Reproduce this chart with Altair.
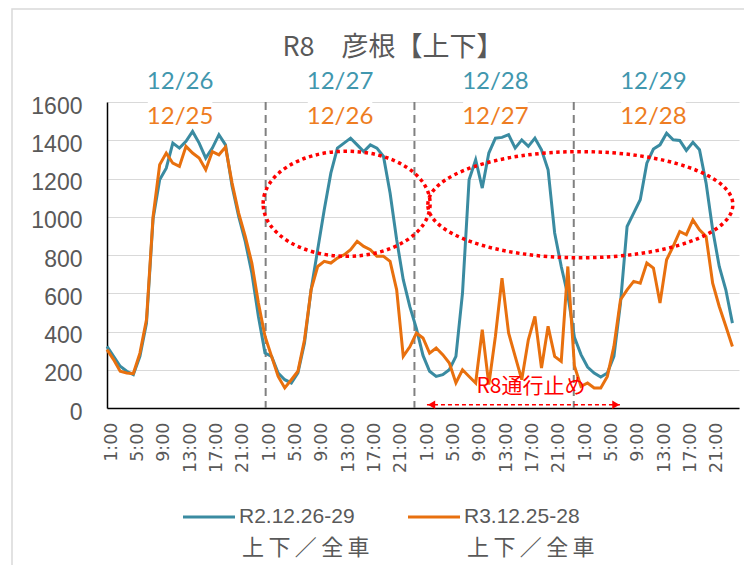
import altair as alt
import pandas as pd

# ---------------- data ----------------
series_names = ["R2.12.26-29", "R3.12.25-28"]
legend_sub = "上\u2009下\u2009／\u2009全\u2009車"
title_text = "R8\u3000彦根【上下】"

# hourly values, 4 days x 24 hours (1:00 ... 24:00)
blue_vals = [
    322, 270, 218, 192, 174, 270, 444, 990, 1193, 1254, 1385, 1359,
    1394, 1446, 1385, 1307, 1359, 1429, 1376, 1159, 1002, 871, 706, 479,
    287, 270, 183, 148, 131, 183, 340, 618, 827, 1037, 1228, 1359,
    1385, 1411, 1376, 1341, 1376, 1359, 1315, 1124, 880, 671, 530, 415,
    275, 192, 165, 174, 200, 270, 600, 1193, 1298, 1150, 1333, 1411,
    1415, 1429, 1359, 1402, 1368, 1411, 1350, 1246, 915, 740, 590, 370,
    279, 214, 183, 162, 183, 270, 549, 949, 1019, 1089, 1280, 1354,
    1376, 1437, 1402, 1399, 1347, 1389, 1350, 1176, 932, 740, 618, 444,
]
orange_vals = [
    305, 253, 192, 183, 180, 287, 462, 1000, 1272, 1333, 1280, 1263,
    1368, 1333, 1307, 1246, 1341, 1324, 1364, 1176, 1019, 897, 758, 549,
    375, 270, 165, 105, 148, 192, 357, 618, 740, 767, 758, 784,
    801, 828, 871, 845, 828, 793, 793, 767, 618, 270, 320, 392,
    366, 287, 314, 279, 235, 131, 200, 165, 131, 409, 122, 375,
    679, 392, 270, 148, 357, 479, 209, 427, 270, 244, 740, 220,
    113, 131, 105, 105, 165, 322, 566, 618, 662, 653, 758, 732,
    549, 775, 845, 923, 906, 984, 932, 897, 653, 531, 427, 322,
]

blue_dates = ["12/26", "12/27", "12/28", "12/29"]
orange_dates = ["12/25", "12/26", "12/27", "12/28"]
date_label_x = [11.1, 35.4, 59.0, 83.0]   # hour index of label centre
blue_date_y = 1706
orange_date_y = 1523

day_sep_x = [24.1, 46.7, 70.9]            # manual day separators (hour index)

closure_text = "R8通行止め"
closure_from, closure_to, closure_y = 48.6, 78.0, 17
closure_text_x, closure_text_y = 64.4, 112

# highlighted areas (centre in hour index / vehicles)
ellipse1 = {"x": 36.4, "y": 1068}
ellipse2 = {"x": 71.9, "y": 1063}

BLUE = "#3A8BA1"
ORANGE = "#E8700E"
BLUE_TXT = "#4197AE"
ORANGE_TXT = "#EE7D22"
GRAY = "#595959"

n = len(blue_vals)
df = pd.DataFrame({
    "idx": list(range(n)) * 2,
    "value": blue_vals + orange_vals,
    "series": [series_names[0]] * n + [series_names[1]] * n,
})

x_scale = alt.Scale(domain=[0, 96], nice=False, zero=False)
y_scale = alt.Scale(domain=[0, 1600], nice=False)

x_axis = alt.Axis(
    values=list(range(0, 96, 4)),
    labelExpr="(datum.value % 24 + 1) + ':00'",
    labelAngle=270, labelAlign="right", labelBaseline="middle",
    labelFontSize=17.5, labelFont="DejaVu Sans", labelColor=GRAY,
    labelPadding=14, labelOffset=4, ticks=False, grid=False,
    domainColor="#000000", domainWidth=1.5, title=None, labelOverlap=False,
)
y_axis = alt.Axis(
    values=list(range(0, 1601, 200)), format="d",
    labelFontSize=23, labelFont="Liberation Sans", labelColor=GRAY,
    labelPadding=25, labelOffset=4, ticks=False, labelOverlap=False,
    gridColor="#D9D9D9", gridWidth=1,
    domainColor="#000000", domainWidth=1.5, title=None,
)

X = lambda f: alt.X(f, scale=x_scale, axis=x_axis)
Y = lambda f: alt.Y(f, scale=y_scale, axis=y_axis)

lines = alt.Chart(df).mark_line(strokeWidth=3).encode(
    x=X("idx:Q"),
    y=Y("value:Q"),
    color=alt.Color("series:N", scale=alt.Scale(domain=series_names, range=[BLUE, ORANGE]), legend=None),
)

# white boxes behind the orange date labels (they hide the top gridline)
box_df = pd.DataFrame({"x": [v - 4.9 for v in date_label_x], "x2": [v + 4.9 for v in date_label_x],
                       "y": [1450] * 4, "y2": [1625] * 4})
boxes = alt.Chart(box_df).mark_rect(color="white").encode(
    x=X("x:Q"), x2="x2:Q", y=Y("y:Q"), y2="y2:Q",
)

sep = alt.Chart(pd.DataFrame({"x": day_sep_x})).mark_rule(
    color="#808080", strokeWidth=2, strokeDash=[8, 5]
).encode(x=X("x:Q"))

dates_b = alt.Chart(pd.DataFrame({"x": date_label_x, "y": [blue_date_y] * 4, "t": blue_dates})).mark_text(
    font="Lato", fontSize=24, color=BLUE_TXT, baseline="middle"
).encode(x=X("x:Q"), y=Y("y:Q"), text="t:N")
dates_o = alt.Chart(pd.DataFrame({"x": date_label_x, "y": [orange_date_y] * 4, "t": orange_dates})).mark_text(
    font="Lato", fontSize=24, color=ORANGE_TXT, baseline="middle"
).encode(x=X("x:Q"), y=Y("y:Q"), text="t:N")

def ellipse_path(r):
    k = 0.5523
    return (f"M-1,0 C-1,{-k*r:.4f} {-k:.4f},{-r:.4f} 0,{-r:.4f} "
            f"C{k:.4f},{-r:.4f} 1,{-k*r:.4f} 1,0 "
            f"C1,{k*r:.4f} {k:.4f},{r:.4f} 0,{r:.4f} "
            f"C{-k:.4f},{r:.4f} -1,{k*r:.4f} -1,0 Z")

ell1 = alt.Chart(pd.DataFrame([ellipse1])).mark_point(
    shape=ellipse_path(0.629), size=167 ** 2, filled=False, stroke="#FF0000",
    strokeWidth=3.5, strokeDash=[3.5, 3.5], opacity=1,
).encode(x=X("x:Q"), y=Y("y:Q"))
ell2 = alt.Chart(pd.DataFrame([ellipse2])).mark_point(
    shape=ellipse_path(0.348), size=305 ** 2, filled=False, stroke="#FF0000",
    strokeWidth=3.5, strokeDash=[3.5, 3.5], opacity=1,
).encode(x=X("x:Q"), y=Y("y:Q"))

arrow_df = pd.DataFrame({"x": [closure_from], "x2": [closure_to], "y": [closure_y]})
arrow = alt.Chart(arrow_df).mark_rule(color="#FF0000", strokeWidth=1.5, strokeDash=[4, 3]).encode(
    x=X("x:Q"), x2="x2:Q", y=Y("y:Q")
)
heads = alt.Chart(pd.DataFrame({
    "x": [closure_from + 0.7, closure_to - 0.7], "y": [closure_y, closure_y],
    "s": ["triangle-left", "triangle-right"]})).mark_point(
    filled=True, color="#FF0000", size=70, opacity=1
).encode(
    x=X("x:Q"), y=Y("y:Q"),
    shape=alt.Shape("s:N", scale=None),
)
closure = alt.Chart(pd.DataFrame({"x": [closure_text_x], "y": [closure_text_y], "t": [closure_text]})).mark_text(
    font="Noto Sans CJK JP", fontSize=21, color="#FF0000", baseline="middle"
).encode(x=X("x:Q"), y=Y("y:Q"), text="t:N")

# chart title (centred on the whole chart area, not the plot)
title = alt.Chart(pd.DataFrame({"t": [title_text]})).mark_text(
    font="Noto Sans CJK JP", fontSize=27, color=GRAY, baseline="middle", align="center"
).encode(x=alt.value(286), y=alt.value(-54), text="t:N")

# manual legend below the axis
def legend_item(name, color, x0):
    d = pd.DataFrame({"series": [name], "sub": [legend_sub]})
    c = alt.Chart(d)
    sym = c.mark_rule(color=color, strokeWidth=3).encode(
        x=alt.value(x0), x2=alt.value(x0 + 52), y=alt.value(415))
    t1 = c.mark_text(align="left", baseline="middle", font="Liberation Sans", fontSize=21, color=GRAY).encode(
        x=alt.value(x0 + 56), y=alt.value(415), text="series:N")
    t2 = c.mark_text(align="left", baseline="middle", font="Noto Sans CJK JP", fontSize=22, color=GRAY).encode(
        x=alt.value(x0 + 59), y=alt.value(446), text="sub:N")
    return sym + t1 + t2

leg = legend_item(series_names[0], BLUE, 76) + legend_item(series_names[1], ORANGE, 301)

border = alt.Chart(pd.DataFrame({"a": [0]})).mark_rect(
    fill=None, stroke="#D9D9D9", strokeWidth=1.5
).encode(x=alt.value(-95), y=alt.value(-93), x2=alt.value(700), y2=alt.value(520))

chart = alt.layer(
    border, boxes, sep, lines, dates_b, dates_o, ell1, ell2, arrow, heads, closure, title, leg
).properties(
    width=632, height=306,
    padding={"left": 99, "top": 94, "right": 5, "bottom": 157},
    autosize=alt.AutoSizeParams(type="none"),
).configure_view(stroke=None).configure_axis(labelOverlap=False)

chart.save("out.html", embed_options={"renderer": "svg", "actions": False})
